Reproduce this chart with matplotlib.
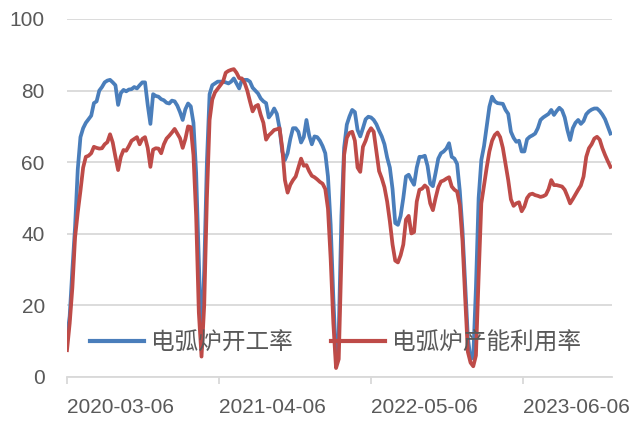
import numpy as np
import pandas as pd
import matplotlib
matplotlib.use("Agg")
import matplotlib.pyplot as plt

plt.rcParams['font.family'] = ['Liberation Sans', 'Noto Sans CJK SC', 'DejaVu Sans']

# weekly data, starts 2020-03-06
start = '2020-03-06'
eaf_run_rate = [
    11, 17, 30, 42, 58, 67, 69.5, 71, 72, 73,
    76.5, 77, 80, 81, 82.3, 82.8, 83, 82.3, 81.5, 76,
    79.3, 80.2, 79.8, 80.3, 80.4, 81, 80.6, 81.5, 82.3, 82.3,
    76, 70.7, 79, 78.5, 78.3, 77.6, 77.3, 76.6, 76.4, 77.2,
    77, 75.8, 74, 71.8, 74.8, 76.4, 75.6, 71, 57, 32,
    8, 30, 60, 79, 81.5, 82, 82.5, 82.5, 82.5, 82.3,
    82, 82.5, 83.4, 82, 80.6, 83, 83, 83, 82.5, 80.8,
    80, 79.2, 77.8, 77, 76.5, 72.5, 73.5, 75, 73.5, 69.5,
    63, 60.6, 62.5, 66.5, 69.5, 69.5, 68.5, 65.5, 67, 71.8,
    67.5, 65, 67.2, 67, 66, 64.5, 62.5, 56, 42.5, 22,
    5, 12, 45, 64, 70.5, 72.8, 74.6, 74, 69, 67.2,
    69.5, 72, 72.7, 72.5, 71.8, 70.6, 68.8, 67.2, 65, 61.3,
    58.5, 52.5, 43, 42.5, 45, 50, 56, 56.5, 55, 53.7,
    58.5, 61.5, 61.5, 61.8, 59, 54, 53.3, 57, 61, 62.5,
    63, 63.8, 65.3, 61.5, 61, 59.5, 52, 41, 26, 11,
    5, 5.5, 25, 50, 60.6, 64.5, 70, 75.5, 78.3, 77,
    76.5, 76.4, 76.3, 74.6, 73.5, 68.5, 66.8, 65.7, 66, 63,
    63, 66.4, 67.1, 67.5, 68, 69.5, 71.8, 72.5, 73, 73.5,
    74.6, 73.2, 74.3, 75.2, 74.5, 72.5, 69, 66.2, 69.5, 71,
    71.8, 70.7, 71.5, 73.4, 74.2, 74.7, 75, 75, 74.3, 73.3,
    72, 70, 68,
]
eaf_capacity_util = [
    7.5, 15, 25, 39, 46, 52, 58.5, 61.5, 61.8, 62.5,
    64.3, 64, 63.8, 63.9, 65, 65.6, 67.8, 65.5, 61.5, 57.8,
    61.5, 63.4, 63.2, 64.5, 66, 66.5, 67, 65, 66.5, 67,
    64, 58.7, 63.5, 63.9, 63.8, 62.5, 65, 66.6, 67.4, 68.3,
    69.3, 68, 66.7, 64, 66.5, 70, 69.8, 62, 45, 18,
    5.7, 20, 50, 71.8, 77.5, 79.5, 80.5, 81.5, 82.5, 85,
    85.5, 85.8, 86, 85, 83.5, 83.4, 82.2, 80, 77, 74.2,
    75.6, 76, 73.2, 71, 66.3, 67.5, 68.2, 69, 69.2, 69.5,
    64, 55, 51.5, 53.7, 55, 56, 58.5, 61, 59, 59.2,
    57.5, 56.2, 55.8, 55.2, 54.5, 54, 52.5, 47, 33, 15,
    2.5, 5, 33, 62, 66.8, 68.2, 68.5, 66, 58.5, 57.3,
    64.3, 66, 68.3, 69.5, 68.5, 63, 57.5, 55.5, 53, 49,
    43.5, 37, 32.5, 32, 34, 37, 44, 45, 40.1, 40.5,
    49, 52.3, 52.6, 53.5, 52.8, 48.5, 46.6, 50, 53, 54.6,
    54.9, 55.4, 55.8, 53.2, 52.3, 51.8, 48, 38, 22, 7,
    4, 3, 6, 28, 48.5, 53.5, 58.5, 63, 66, 67.6,
    68.3, 67, 64, 59.5, 55, 49.6, 47.8, 48.5, 48.8, 46.3,
    47.6, 50, 51, 51.2, 50.8, 50.6, 50.3, 50.5, 50.9, 52.5,
    55, 53.6, 53.6, 53.4, 53.2, 52.3, 50.5, 48.5, 49.7, 51,
    52.3, 53.5, 56, 61.5, 63.9, 65, 66.6, 67.1, 66.3, 63.9,
    62, 60.3, 58.7,
]
labels = ['电弧炉开工率', '电弧炉产能利用率']
tick_dates = ['2020-03-06', '2021-04-06', '2022-05-06', '2023-06-06']

dates = pd.date_range(start, periods=len(eaf_run_rate), freq='7D')

fig = plt.figure(figsize=(6.36, 4.21), dpi=100)
ax = fig.add_axes([67/636, 1 - 377/421, 545/636, 358/421])

ax.plot(dates, eaf_run_rate, color='#4a7ebb', lw=2.7, label=labels[0])
ax.plot(dates, eaf_capacity_util, color='#be4b48', lw=2.7, label=labels[1])

ax.set_ylim(0, 100)
ax.set_yticks(range(0, 101, 20))
ax.set_xlim(pd.Timestamp(start), pd.Timestamp(start) + pd.Timedelta(days=1418))
ax.yaxis.grid(True, color='#d9d9d9', lw=1.3)
ax.set_axisbelow(True)

for s in ['top', 'right', 'left']:
    ax.spines[s].set_visible(False)
ax.spines['bottom'].set_color('#d9d9d9')
ax.spines['bottom'].set_linewidth(1.3)

ax.set_xticks(pd.to_datetime(tick_dates))
ax.set_xticklabels(tick_dates, ha='left')
ax.tick_params(axis='x', length=5, width=1.3, color='#d9d9d9', pad=10,
               labelsize=15, labelcolor='#595959')
ax.tick_params(axis='y', length=0, pad=16, labelsize=15, labelcolor='#595959')

leg = ax.legend(loc='center left', bbox_to_anchor=(0.042, 0.095), ncol=2,
                frameon=False, borderaxespad=0, borderpad=0,
                handlelength=2.3, handletextpad=0.3, columnspacing=1.6,
                prop={'family': ['Noto Sans CJK SC', 'DejaVu Sans'], 'size': 17})
for t in leg.get_texts():
    t.set_color('#595959')
for h in leg.get_lines():
    h.set_linewidth(3)

fig.savefig('out.png', dpi=100)
